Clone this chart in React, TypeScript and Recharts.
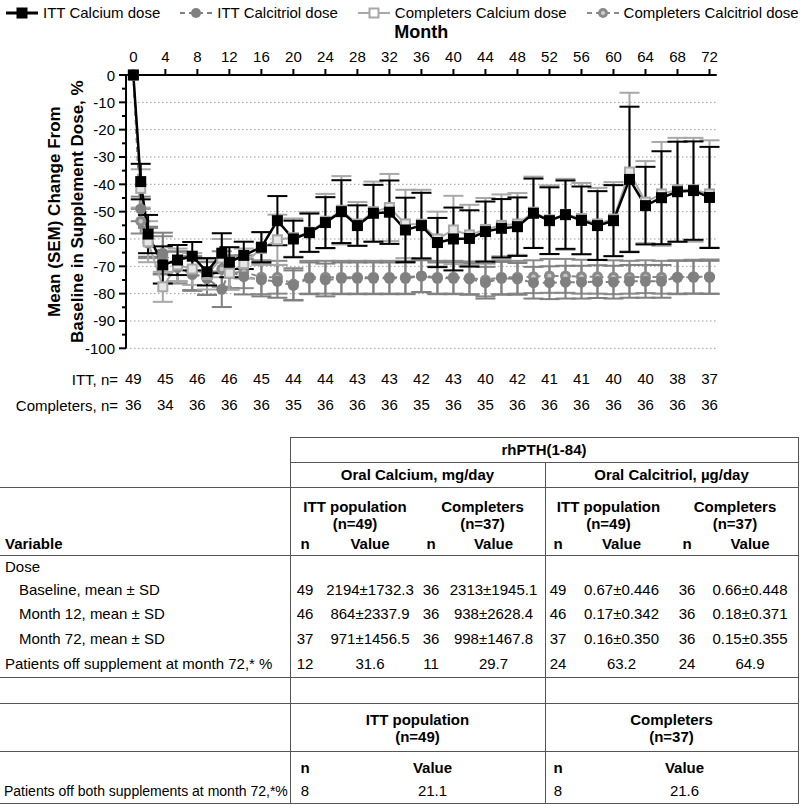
import React from "react";
import { ComposedChart, Line, XAxis, YAxis, ErrorBar, ReferenceLine, Label } from "recharts";

const FONT = '"Liberation Sans", Arial, Helvetica, sans-serif';

// visit month (early visits are weeks 4, 8, 16, 24, 32, 40, 48, 52, 60 expressed in months)
const months = [0, 0.92, 1.84, 3.68, 5.52, 7.36, 9.2, 11.05, 12, 13.8, 16, 18, 20, 22, 24, 26, 28, 30, 32, 34, 36, 38, 40, 42, 44, 46, 48, 50, 52, 54, 56, 58, 60, 62, 64, 66, 68, 70, 72];

const ittCa = [0, -39, -58.2, -69.5, -67.7, -66.3, -72, -65.2, -68.5, -66, -63, -53.3, -60, -57.7, -54, -50, -55.1, -50.6, -50.2, -56.7, -55.1, -61.3, -60, -59.8, -57.3, -56.1, -55.5, -50.6, -53.3, -51.1, -53.2, -55.1, -53.3, -38.2, -47.8, -44.9, -42.7, -42.3, -44.8];
const ittCaSem = [0, 6.5, 7, 6.8, 5.5, 5.2, 5, 7.3, 5.5, 5, 5.5, 9, 6.7, 7, 9.3, 11.5, 7.4, 10.4, 11.6, 11.8, 12, 9, 11.5, 10.3, 11, 10.7, 10.7, 12.7, 12.2, 12.5, 12.4, 12.6, 13, 26.6, 14.2, 17, 18.3, 18, 18.5];

const compCa = [0, -41.5, -61, -77.5, -69.5, -71, -73, -67, -72.5, -69, -63.5, -60.3, -59.5, -57.5, -53.5, -49.5, -54.5, -50, -48.5, -54.5, -54.6, -60, -56.7, -58.5, -56.5, -55, -54.5, -50.2, -53, -51, -52.5, -54.5, -52.7, -35.5, -46.5, -43.5, -42, -42, -43.5];
const compCaSem = [0, 7, 7.5, 5.5, 6, 5.8, 5.5, 7, 6, 5.5, 6, 9.2, 7, 7.3, 10, 12.5, 8, 11, 12.3, 12.5, 12.6, 10, 12.5, 11, 11.5, 11.3, 11.3, 13, 12.6, 13, 13, 13.2, 13.5, 29, 15, 19, 19, 19, 19.6];

const ittCt = [0, -49, -61, -65.2, -70, -72.5, -74.4, -78.4, -72, -73.8, -75, -75.5, -77, -74.4, -75, -74.4, -74.4, -74.4, -74.4, -74.4, -73.6, -74.4, -74.4, -74.6, -76, -74.4, -74.6, -76, -76, -75.8, -75.8, -75.6, -75.8, -75.5, -75.5, -75.5, -74, -74, -74];
const ittCtSem = [0, 4.5, 5.5, 7.5, 5.5, 6.2, 6, 6.5, 6, 6.5, 6, 6, 5.5, 5.8, 6, 5.8, 5.8, 5.8, 5.8, 5.8, 5.8, 5.8, 5.8, 5.8, 5.8, 6, 5.8, 5.8, 6, 6, 6, 6, 6, 6, 6, 6, 6, 6, 6];

const compCt = [0, -53.5, -61.5, -66, -70.5, -73, -74.5, -71, -72.5, -72, -74, -74, -76.5, -74, -74, -74, -74, -74, -74, -74, -73.5, -74, -74, -74.2, -75, -74, -74, -73.8, -73.5, -73.5, -73.8, -73.8, -74, -74, -73.8, -74, -74, -73.8, -73.8];
const compCtSem = [0, 4.5, 5.5, 7, 5.8, 6, 6, 6.5, 6, 6, 6.2, 6, 5.8, 6, 6, 6, 6, 6, 6, 6, 6, 6, 6, 6, 6, 6.2, 6, 6, 6.2, 6.2, 6.2, 6.2, 6.2, 6, 6, 6, 6.2, 6.2, 6.3];

const xTicks = [0, 4, 8, 12, 16, 20, 24, 28, 32, 36, 40, 44, 48, 52, 56, 60, 64, 68, 72];
const ittN = [49, 45, 46, 46, 45, 44, 44, 43, 43, 42, 43, 40, 42, 41, 41, 40, 40, 38, 37];
const compN = [36, 34, 36, 36, 36, 35, 36, 36, 36, 35, 36, 35, 36, 36, 36, 36, 36, 36, 36];
const yTicks = [0, -5, -10, -15, -20, -25, -30, -35, -40, -45, -50, -55, -60, -65, -70, -75, -80, -85, -90, -95, -100];
const gridValues = [-10, -20, -30, -40, -50, -60, -70, -80, -90, -100];

const rows = months.map((m, i) => ({
  month: m,
  ittCa: ittCa[i], ittCaSem: ittCaSem[i],
  compCa: compCa[i], compCaSem: compCaSem[i],
  ittCt: ittCt[i], ittCtSem: ittCtSem[i],
  compCt: compCt[i], compCtSem: compCtSem[i],
}));

const BLACK = "#000";
const GRAY = "#808080";
const LIGHT = "#a8a8a8";
const RING = "#8a8a8a";

const X_DOMAIN = [-0.92, 72.9];
const Y_TICK_SIZE = 6;
const Y_TICK_MARGIN = 5;

const YTick = (p: any) => {
  const v = p.payload.value;
  const major = v % 10 === 0;
  const ax = p.x + Y_TICK_SIZE + Y_TICK_MARGIN;
  return (
    <g>
      <line x1={ax - (major ? 7 : 4)} x2={ax} y1={p.y} y2={p.y} stroke={BLACK} strokeWidth={2} />
      {major && (
        <text x={p.x} y={p.y} textAnchor="end" dominantBaseline="central" fontSize={15} fontFamily={FONT} fill={BLACK}>
          {v}
        </text>
      )}
    </g>
  );
};

const YLabel = (p: any) => {
  const vb = p.viewBox;
  const cy = vb.y + vb.height / 2;
  return (
    <g fontFamily={FONT} fontSize={17} fontWeight="bold" fill={BLACK}>
      <text x={55} y={cy} textAnchor="middle" dominantBaseline="central" transform={`rotate(-90 55 ${cy})`}>
        Mean (SEM) Change From
      </text>
      <text x={78} y={cy} textAnchor="middle" dominantBaseline="central" transform={`rotate(-90 78 ${cy})`}>
        Baseline in Supplement Dose, %
      </text>
    </g>
  );
};

const MonthLabel = (p: any) => {
  const vb = p.viewBox;
  return (
    <text x={vb.x + vb.width / 2} y={vb.y + 13} textAnchor="middle" fontFamily={FONT} fontSize={18} fontWeight="bold" fill={BLACK}>
      Month
    </text>
  );
};

const rowLabel = (text: string, dy: number) => (p: any) => {
  const vb = p.viewBox;
  return (
    <text x={vb.x - 8} y={vb.y + dy} textAnchor="end" dominantBaseline="central" fontFamily={FONT} fontSize={15} fill={BLACK}>
      {text}
    </text>
  );
};

const squareDot = (p: any) =>
  p.cx == null ? null : <rect key={`sq${p.index}`} x={p.cx - 5.5} y={p.cy - 5.5} width={11} height={11} fill={BLACK} />;
const openSquareDot = (p: any) =>
  p.cx == null ? null : (
    <rect key={`os${p.index}`} x={p.cx - 4.5} y={p.cy - 4.5} width={9} height={9} fill="#e6e6e6" stroke={LIGHT} strokeWidth={2} />
  );
const circleDot = (p: any) =>
  p.cx == null ? null : <circle key={`ci${p.index}`} cx={p.cx} cy={p.cy} r={5.5} fill={GRAY} />;
const ringDot = (p: any) =>
  p.cx == null ? null : (
    <g key={`ri${p.index}`}>
      <circle cx={p.cx} cy={p.cy} r={5.5} fill={RING} />
      <circle cx={p.cx} cy={p.cy} r={2.2} fill="#c8c8c8" />
    </g>
  );

const legendItems = [
  { label: "ITT Calcium dose", color: BLACK, dash: "", width: 3, marker: "square" },
  { label: "ITT Calcitriol dose", color: GRAY, dash: "5 4", width: 2, marker: "circle" },
  { label: "Completers Calcium dose", color: LIGHT, dash: "", width: 2, marker: "openSquare" },
  { label: "Completers Calcitriol dose", color: RING, dash: "5 4", width: 2, marker: "ring" },
];

const LegendMarker = ({ item }: any) => (
  <svg width={32} height={16} style={{ display: "block" }}>
    <line x1={0} x2={32} y1={8} y2={8} stroke={item.color} strokeWidth={item.width} strokeDasharray={item.dash} />
    {item.marker === "square" && <rect x={10.5} y={2.5} width={11} height={11} fill={BLACK} />}
    {item.marker === "circle" && <circle cx={16} cy={8} r={5} fill={GRAY} />}
    {item.marker === "openSquare" && <rect x={11.5} y={3.5} width={9} height={9} fill="#fff" stroke={LIGHT} strokeWidth={2} />}
    {item.marker === "ring" && (
      <g>
        <circle cx={16} cy={8} r={5} fill={RING} />
        <circle cx={16} cy={8} r={2} fill="#d0d0d0" />
      </g>
    )}
  </svg>
);

// ---------- table ----------
const LINE = "#555";
const H_LINES = [[437, 290, 798], [462, 290, 798], [487, 0, 798], [555, 0, 798], [677, 0, 798], [703, 0, 798], [751, 0, 798], [803, 0, 798]];
const V_LINES = [[290, 437, 803], [545, 462, 803], [798, 437, 803]];
// column edges: n, value, n, value, n, value, n, value
const COLS = [290, 320, 420, 442, 545, 571, 672, 702, 798];

const groupHeads = [
  { a: "ITT population", b: "(n=49)" },
  { a: "Completers", b: "(n=37)" },
  { a: "ITT population", b: "(n=49)" },
  { a: "Completers", b: "(n=37)" },
];

const doseRows = [
  { label: "Dose", indent: false, y: 567, cells: [] as string[] },
  { label: "Baseline, mean ± SD", indent: true, y: 590, cells: ["49", "2194±1732.3", "36", "2313±1945.1", "49", "0.67±0.446", "36", "0.66±0.448"] },
  { label: "Month 12, mean ± SD", indent: true, y: 614, cells: ["46", "864±2337.9", "36", "938±2628.4", "46", "0.17±0.342", "36", "0.18±0.371"] },
  { label: "Month 72, mean ± SD", indent: true, y: 639, cells: ["37", "971±1456.5", "36", "998±1467.8", "37", "0.16±0.350", "36", "0.15±0.355"] },
  { label: "Patients off supplement at month 72,* %", indent: false, y: 664, cells: ["12", "31.6", "11", "29.7", "24", "63.2", "24", "64.9"] },
];

const bothCols = [290, 320, 545, 571, 798];
const bothRow = { label: "Patients off both supplements at month 72,*%", y: 791, cells: ["8", "21.1", "8", "21.6"] };

const Cell = ({ x1, x2, y, text, bold, align, size }: any) => (
  <div
    style={{
      position: "absolute",
      left: x1,
      width: x2 - x1,
      top: y - 10,
      height: 20,
      lineHeight: "20px",
      textAlign: align || "center",
      fontWeight: bold ? "bold" : "normal",
      fontSize: size || 15,
      whiteSpace: "nowrap",
    }}
  >
    {text}
  </div>
);

const Table = () => (
  <div style={{ position: "absolute", left: 0, top: 0, width: 800, height: 806, fontFamily: FONT, fontSize: 15, color: BLACK }}>
    {H_LINES.map(([y, a, b], i) => (
      <div key={`h${i}`} style={{ position: "absolute", left: a, width: b - a + 1, top: y, height: 1, background: LINE }} />
    ))}
    {V_LINES.map(([x, a, b], i) => (
      <div key={`v${i}`} style={{ position: "absolute", left: x, width: 1, top: a, height: b - a, background: LINE }} />
    ))}
    <Cell x1={290} x2={798} y={450} text="rhPTH(1-84)" bold />
    <Cell x1={290} x2={545} y={475} text="Oral Calcium, mg/day" bold />
    <Cell x1={545} x2={798} y={475} text="Oral Calcitriol, µg/day" bold />
    {groupHeads.map((g, i) => (
      <React.Fragment key={`g${i}`}>
        <Cell x1={COLS[i * 2]} x2={COLS[i * 2 + 2]} y={507} text={g.a} bold />
        <Cell x1={COLS[i * 2]} x2={COLS[i * 2 + 2]} y={524} text={g.b} bold />
        <Cell x1={COLS[i * 2]} x2={COLS[i * 2 + 1]} y={544} text="n" bold />
        <Cell x1={COLS[i * 2 + 1]} x2={COLS[i * 2 + 2]} y={544} text="Value" bold />
      </React.Fragment>
    ))}
    <Cell x1={5} x2={290} y={544} text="Variable" bold align="left" />
    {doseRows.map((r, i) => (
      <React.Fragment key={`r${i}`}>
        <Cell x1={r.indent ? 19 : 5} x2={290} y={r.y} text={r.label} align="left" />
        {r.cells.map((c, j) => (
          <Cell key={`c${j}`} x1={COLS[j]} x2={COLS[j + 1]} y={r.y} text={c} />
        ))}
      </React.Fragment>
    ))}
    <Cell x1={290} x2={545} y={720} text="ITT population" bold />
    <Cell x1={290} x2={545} y={737} text="(n=49)" bold />
    <Cell x1={545} x2={798} y={720} text="Completers" bold />
    <Cell x1={545} x2={798} y={737} text="(n=37)" bold />
    {[0, 2].map((j) => (
      <React.Fragment key={`bh${j}`}>
        <Cell x1={bothCols[j]} x2={bothCols[j + 1]} y={768} text="n" bold />
        <Cell x1={bothCols[j + 1]} x2={bothCols[j + 2]} y={768} text="Value" bold />
      </React.Fragment>
    ))}
    <Cell x1={4} x2={290} y={bothRow.y} text={bothRow.label} align="left" size={14} />
    {bothRow.cells.map((c, j) => (
      <Cell key={`b${j}`} x1={bothCols[j]} x2={bothCols[j + 1]} y={bothRow.y} text={c} />
    ))}
  </div>
);

export default function App() {
  const axisStyle = { stroke: BLACK, strokeWidth: 2 };
  const nAxisCommon = {
    type: "number" as const,
    dataKey: "month",
    orientation: "bottom" as const,
    domain: X_DOMAIN,
    allowDataOverflow: true,
    ticks: xTicks,
    interval: 0 as const,
    height: 30,
    tickSize: 0,
    axisLine: false,
    tickLine: false,
    tick: { fontSize: 15, fill: BLACK, fontFamily: FONT },
  };
  return (
    <div style={{ position: "absolute", left: 0, top: 0, width: 800, height: 806, background: "#fff", fontFamily: FONT }}>
      <div style={{ position: "absolute", left: 6, top: 4, display: "flex", alignItems: "center", fontSize: 15, whiteSpace: "nowrap" }}>
        {legendItems.map((it) => (
          <div key={it.label} style={{ display: "flex", alignItems: "center", marginRight: 20 }}>
            <LegendMarker item={it} />
            <span style={{ marginLeft: 5 }}>{it.label}</span>
          </div>
        ))}
      </div>
      <div style={{ position: "absolute", left: 0, top: 0 }}>
        <ComposedChart width={800} height={430} data={rows} margin={{ top: 25, right: 83.3, bottom: 21.7, left: 0 }}>
          <XAxis
            xAxisId="m"
            type="number"
            dataKey="month"
            orientation="top"
            domain={X_DOMAIN}
            allowDataOverflow
            ticks={xTicks}
            interval={0}
            height={50}
            tickSize={6}
            tickMargin={7}
            axisLine={axisStyle}
            tickLine={axisStyle}
            tick={{ fontSize: 15, fill: BLACK, fontFamily: FONT }}
          >
            <Label content={MonthLabel} />
          </XAxis>
          <XAxis
            xAxisId="a_itt"
            {...nAxisCommon}
            tickMargin={25}
            tickFormatter={(v: number) => String(ittN[xTicks.indexOf(v)])}
          >
            <Label content={rowLabel("ITT, n=", 30.7)} />
          </XAxis>
          <XAxis
            xAxisId="b_comp"
            {...nAxisCommon}
            tickMargin={21.4}
            tickFormatter={(v: number) => String(compN[xTicks.indexOf(v)])}
          >
            <Label content={rowLabel("Completers, n=", 26.7)} />
          </XAxis>
          <YAxis
            yAxisId="v"
            type="number"
            domain={[-100, 0]}
            ticks={yTicks}
            interval={0}
            width={126}
            tickSize={Y_TICK_SIZE}
            tickMargin={Y_TICK_MARGIN}
            tickLine={false}
            axisLine={axisStyle}
            tick={<YTick />}
          >
            <Label content={YLabel} />
          </YAxis>
          {gridValues.map((v) => (
            <ReferenceLine key={v} xAxisId="m" yAxisId="v" y={v} stroke="#9a9a9a" strokeDasharray="1.5 2.5" strokeWidth={1} />
          ))}
          <Line xAxisId="m" yAxisId="v" dataKey="compCt" stroke={RING} strokeWidth={2} strokeDasharray="5 4" dot={ringDot} isAnimationActive={false}>
            <ErrorBar dataKey="compCtSem" width={10} stroke={RING} strokeWidth={2} direction="y" isAnimationActive={false} />
          </Line>
          <Line xAxisId="m" yAxisId="v" dataKey="ittCt" stroke={GRAY} strokeWidth={2} strokeDasharray="5 4" dot={circleDot} isAnimationActive={false}>
            <ErrorBar dataKey="ittCtSem" width={10} stroke={GRAY} strokeWidth={2} direction="y" isAnimationActive={false} />
          </Line>
          <Line xAxisId="m" yAxisId="v" dataKey="compCa" stroke={LIGHT} strokeWidth={2} dot={openSquareDot} isAnimationActive={false}>
            <ErrorBar dataKey="compCaSem" width={10} stroke={LIGHT} strokeWidth={2} direction="y" isAnimationActive={false} />
          </Line>
          <Line xAxisId="m" yAxisId="v" dataKey="ittCa" stroke={BLACK} strokeWidth={2.5} dot={squareDot} isAnimationActive={false}>
            <ErrorBar dataKey="ittCaSem" width={10} stroke={BLACK} strokeWidth={2} direction="y" isAnimationActive={false} />
          </Line>
        </ComposedChart>
      </div>
      <Table />
    </div>
  );
}
